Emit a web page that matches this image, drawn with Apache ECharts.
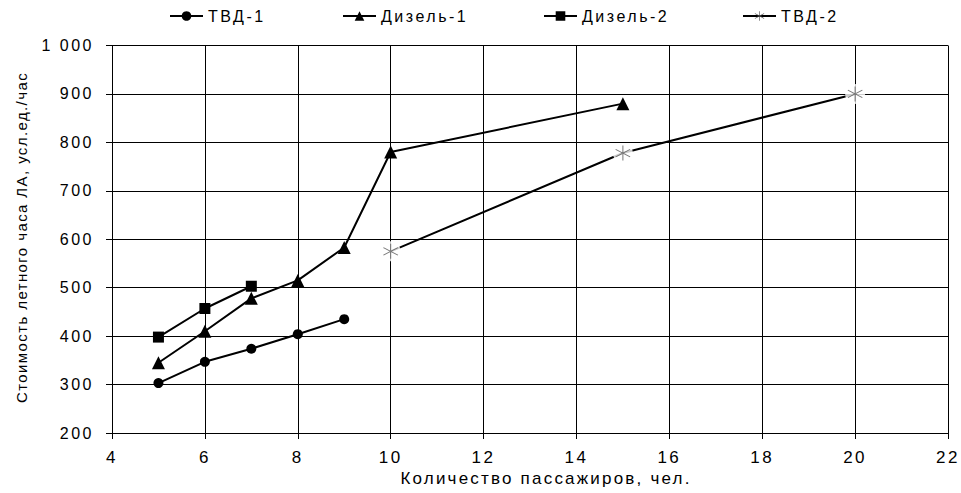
<!DOCTYPE html>
<html>
<head>
<meta charset="utf-8">
<script src="https://cdn.jsdelivr.net/npm/echarts@6/dist/echarts.min.js"></script>
<style>html,body{margin:0;padding:0;background:#fff;}#c{width:961px;height:493px;}</style>
</head>
<body>
<div id="c"></div>
<script>
// Data
const tvd1X = [5, 6, 7, 8, 9];
const tvd1Y = [303, 347, 374, 404, 435];
const dizel1X = [5, 6, 7, 8, 9, 10, 15];
const dizel1Y = [345, 410, 478, 515, 583, 780, 880];
const dizel2X = [5, 6, 7];
const dizel2Y = [398, 457, 503];
const tvd2X = [10, 15, 20];
const tvd2Y = [575, 778, 900];
const seriesNames = ['ТВД-1', 'Дизель-1', 'Дизель-2', 'ТВД-2'];
const xTitle = 'Количество пассажиров, чел.';
const yTitle = 'Стоимость летного часа ЛА, усл.ед./час';

const pairs = (xs, ys) => xs.map((x, i) => [x, ys[i]]);
const FONT = 'Liberation Sans';
const asterisk = 'path://M9.4 0L10.6 0L10.6 20L9.4 20Z M18.96 5.52L18.36 4.48L1.04 14.48L1.64 15.52Z M1.04 5.52L1.64 4.48L18.96 14.48L18.36 15.52Z';

const chart = echarts.init(document.getElementById('c'), null, {renderer: 'svg'});
const legendBase = {
  top: 3, itemWidth: 33, itemHeight: 12, itemGap: 5,
  textStyle: {fontFamily: FONT, fontSize: 16, color: '#000'}
};
const lefts = [164, 337, 538, 737];
chart.setOption({
  animation: false,
  backgroundColor: '#fff',
  legend: seriesNames.map((n, i) => Object.assign({}, legendBase, {left: lefts[i], data: [n]})),
  grid: {left: 112, right: 13, top: 45.5, bottom: 59.5, containLabel: false},
  xAxis: {
    type: 'value', min: 4, max: 22, interval: 2,
    name: xTitle, nameLocation: 'middle', nameGap: 38,
    nameTextStyle: {fontFamily: FONT, fontSize: 17, color: '#000'},
    axisLine: {show: true, onZero: false, lineStyle: {color: '#000', width: 1}},
    axisTick: {show: true, length: 6, lineStyle: {color: '#000'}},
    axisLabel: {fontFamily: FONT, fontSize: 17, color: '#000', margin: 16},
    splitLine: {show: true, lineStyle: {color: '#000', width: 1}}
  },
  yAxis: {
    type: 'value', min: 200, max: 1000, interval: 100,
    name: yTitle, nameLocation: 'middle', nameGap: 88, nameRotate: 90,
    nameTextStyle: {fontFamily: FONT, fontSize: 15, color: '#000'},
    axisLine: {show: true, lineStyle: {color: '#000', width: 1}},
    axisTick: {show: true, length: 6, lineStyle: {color: '#000'}},
    axisLabel: {fontFamily: FONT, fontSize: 16, color: '#000', margin: 18,
      formatter: v => v >= 1000 ? String(v).replace(/\B(?=(\d{3})+(?!\d))/g, ' ') : String(v)},
    splitLine: {show: true, lineStyle: {color: '#000', width: 1}}
  },
  series: [
    {name: seriesNames[0], type: 'line', data: pairs(tvd1X, tvd1Y), symbol: 'circle', symbolSize: 10,
      itemStyle: {color: '#000'}, lineStyle: {color: '#000', width: 2}, z: 5},
    {name: seriesNames[1], type: 'line', data: pairs(dizel1X, dizel1Y), symbol: 'triangle', symbolSize: 13,
      itemStyle: {color: '#000'}, lineStyle: {color: '#000', width: 2}, z: 5},
    {name: seriesNames[2], type: 'line', data: pairs(dizel2X, dizel2Y), symbol: 'rect', symbolSize: 11,
      itemStyle: {color: '#000'}, lineStyle: {color: '#000', width: 2}, z: 5},
    {name: seriesNames[3], type: 'line', data: pairs(tvd2X, tvd2Y), symbol: asterisk, symbolSize: 15, showSymbol: false,
      itemStyle: {color: '#555'}, lineStyle: {color: '#000', width: 2}, z: 3},
    {name: 'tvd2-gap', type: 'scatter', data: pairs(tvd2X, tvd2Y), symbol: 'circle', symbolSize: 20,
      itemStyle: {color: '#fff'}, z: 4, silent: true},
    {name: 'tvd2-mark', type: 'scatter', data: pairs(tvd2X, tvd2Y), symbol: asterisk, symbolSize: 15,
      itemStyle: {color: '#555'}, z: 5, silent: true}
  ]
});
// Reference text is rendered wide; widen glyph spacing to match the measured text widths
document.querySelectorAll('#c svg text').forEach(t => {
  const s = t.textContent;
  let ls = 2.5;
  if (s === xTitle) ls = 2.2;
  else if (s === yTitle) ls = 1.4;
  t.style.letterSpacing = ls + 'px';
  // re-center the axis titles where the reference has them
  if (s === xTitle || s === yTitle) {
    const r = t.getBoundingClientRect();
    const cx = r.left + r.width / 2, cy = r.top + r.height / 2;
    const tx = s === xTitle ? 546 : 21;
    const ty = s === xTitle ? 478 : 237.5;
    t.style.translate = (tx - cx) + 'px ' + (ty - cy) + 'px';
  }
});
</script>
</body>
</html>
